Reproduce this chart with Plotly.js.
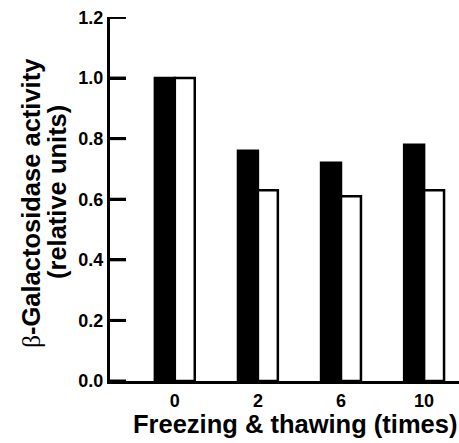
<!DOCTYPE html>
<html><head><meta charset="utf-8">
<script src="https://cdn.plot.ly/plotly-3.0.1.min.js"></script>
<style>html,body{margin:0;padding:0;background:#fff}</style>
</head><body><div id="chart" style="width:459px;height:443px"></div>
<script>
const categories = ['0', '2', '6', '10'];
const blackSeries = [1.0, 0.76, 0.72, 0.78];
const whiteSeries = [1.0, 0.63, 0.61, 0.63];
const yTicks = [0, 0.2, 0.4, 0.6, 0.8, 1.0, 1.2];
const yTickLabels = ['0.0', '0.2', '0.4', '0.6', '0.8', '1.0', '1.2'];
const xTitle = 'Freezing & thawing (times)';
const yTitleLine1 = '<span style="font-weight:normal;font-family:Liberation Serif">β</span>-Galactosidase activity';
const yTitleLine2 = '(relative units)';

const font = 'Liberation Sans, Arial, Helvetica, sans-serif';
const tickFont = {family: font, size: 18, weight: 'bold', color: '#000'};
const titleFont = {family: font, size: 25.5, weight: 'bold', color: '#000'};
const data = [
  {type: 'bar', x: categories, y: blackSeries, marker: {color: '#000', line: {color: '#000', width: 2.5}}},
  {type: 'bar', x: categories, y: whiteSeries, marker: {color: '#fff', line: {color: '#000', width: 2.5}}}
];
// inside tick marks on the y axis, placed through the y axis scale at the tick values
const tickShapes = yTicks.map(v => ({
  type: 'line', xref: 'paper', yref: 'y', xsizemode: 'pixel', xanchor: 0,
  x0: 0, x1: 16, y0: v, y1: v, layer: 'above',
  line: {color: '#000', width: 3}
}));
const layout = {
  width: 459, height: 443, showlegend: false,
  margin: {l: 110, r: 0, t: 17, b: 62},
  barmode: 'group', bargap: 0.52, bargroupgap: 0,
  xaxis: {
    type: 'category', range: [-0.78, 3.42],
    showline: true, linecolor: '#000', linewidth: 3,
    showgrid: false, zeroline: false,
    tickfont: tickFont, ticklabelstandoff: 1
  },
  yaxis: {
    range: [0, 1.2015], tickmode: 'array', tickvals: yTicks, ticktext: yTickLabels,
    showline: true, linecolor: '#000', linewidth: 3,
    ticks: 'inside', ticklen: 16, tickwidth: 3, tickcolor: '#000',
    showgrid: false, zeroline: false,
    tickfont: tickFont
  },
  shapes: tickShapes,
  annotations: [
    {text: xTitle, xref: 'paper', yref: 'paper', x: 0.5315, y: 0, xanchor: 'center', yanchor: 'middle', yshift: -43, showarrow: false, font: titleFont},
    {text: yTitleLine1, xref: 'paper', yref: 'paper', x: 0, y: 0.5, xanchor: 'center', yanchor: 'middle', xshift: -79, yshift: -4, textangle: -90, showarrow: false, font: titleFont},
    {text: yTitleLine2, xref: 'paper', yref: 'paper', x: 0, y: 0.5, xanchor: 'center', yanchor: 'middle', xshift: -53, yshift: 7, textangle: -90, showarrow: false, font: titleFont}
  ]
};
Plotly.newPlot('chart', data, layout, {displayModeBar: false});
</script></body></html>
